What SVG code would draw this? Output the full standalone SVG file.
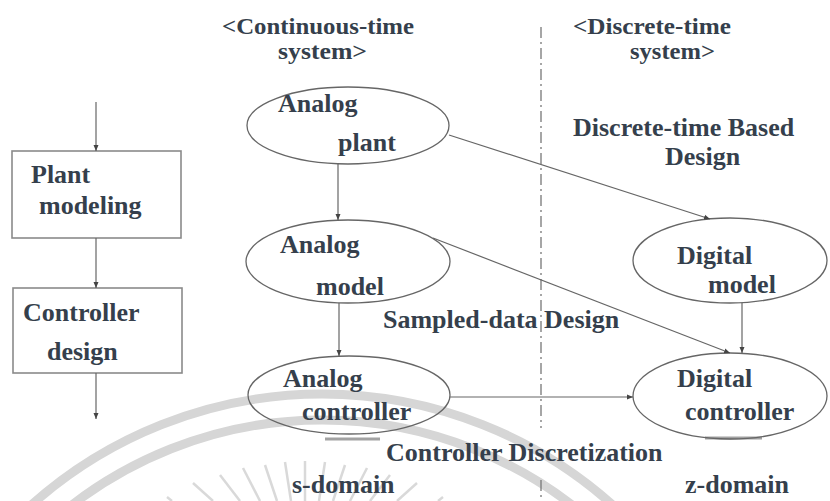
<svg xmlns="http://www.w3.org/2000/svg" width="830" height="501" viewBox="0 0 830 501">
<style>
.t{font-family:"Liberation Serif","Times New Roman",serif;font-weight:bold;font-size:26px;fill:#353f4c}
.h{font-family:"Liberation Serif","Times New Roman",serif;font-weight:bold;font-size:23px;fill:#353f4c}
.n{fill:none;stroke:#666;stroke-width:1.3}
.b{fill:none;stroke:#8a8a8a;stroke-width:1.6}
.c{fill:none;stroke:#666;stroke-width:1.2}
.w{fill:none;stroke:#d6d6d6}
</style>
<defs>
<marker id="ah" markerWidth="6" markerHeight="6" refX="6" refY="3" orient="auto" markerUnits="userSpaceOnUse">
<path d="M0,0.5 L6,3 L0,5.5 z" fill="#444"/>
</marker>
</defs>
<rect width="830" height="501" fill="#fff"/>
<g id="watermark">
<circle class="w" cx="322" cy="830" r="436" stroke-width="9"/>
<circle class="w" cx="322" cy="830" r="410" stroke-width="9"/>
<g stroke-width="2.5" stroke="#d9d9d9">
<line x1="167" y1="497" x2="172" y2="501"/>
<line x1="193" y1="483" x2="213" y2="501"/>
<line x1="220" y1="475" x2="240" y2="501"/>
<line x1="243" y1="468" x2="260" y2="501"/>
<line x1="265" y1="465" x2="277" y2="501"/>
<line x1="285" y1="462" x2="291" y2="501"/>
<line x1="305" y1="461" x2="305" y2="501"/>
<line x1="325" y1="462" x2="319" y2="501"/>
<line x1="345" y1="465" x2="333" y2="501"/>
<line x1="367" y1="468" x2="350" y2="501"/>
<line x1="390" y1="475" x2="370" y2="501"/>
<line x1="417" y1="483" x2="397" y2="501"/>
<line x1="443" y1="497" x2="438" y2="501"/>
</g>
<line x1="325" y1="439" x2="380" y2="439" stroke="#8c8c8c" stroke-width="3" opacity="0.8"/>
<line x1="705" y1="438" x2="762" y2="438" stroke="#8c8c8c" stroke-width="3" opacity="0.8"/>
</g>
<g id="divider">
<line x1="541" y1="27" x2="541" y2="428" stroke="#777" stroke-width="1.3" stroke-dasharray="11,4,2,4"/>
<line x1="541" y1="480" x2="541" y2="501" stroke="#777" stroke-width="1.3" stroke-dasharray="11,4,2,4"/>
</g>
<g id="labels">
<text class="h" x="222" y="34" textLength="192" lengthAdjust="spacingAndGlyphs">&lt;Continuous-time</text>
<text class="h" x="278" y="59" textLength="89" lengthAdjust="spacingAndGlyphs">system&gt;</text>
<text class="h" x="573" y="34" textLength="158" lengthAdjust="spacingAndGlyphs">&lt;Discrete-time</text>
<text class="h" x="630" y="59" textLength="85" lengthAdjust="spacingAndGlyphs">system&gt;</text>
<text class="t" x="573" y="136">Discrete-time Based</text>
<text class="t" x="665" y="165">Design</text>
<text class="t" x="383" y="328">Sampled-data Design</text>
<text class="t" x="386" y="461">Controller Discretization</text>
<text class="t" x="292" y="493">s-domain</text>
<text class="t" x="685" y="493">z-domain</text>
</g>
<g id="plant-modeling">
<rect class="b" x="12" y="151" width="169" height="87"/>
<text class="t" x="31" y="183">Plant</text>
<text class="t" x="39" y="214">modeling</text>
</g>
<g id="controller-design">
<rect class="b" x="13" y="288" width="169" height="85"/>
<text class="t" x="23" y="321">Controller</text>
<text class="t" x="47" y="360">design</text>
</g>
<g id="analog-plant">
<ellipse class="n" cx="348" cy="125.5" rx="101" ry="38.5"/>
<text class="t" x="278" y="112">Analog</text>
<text class="t" x="338" y="151">plant</text>
</g>
<g id="analog-model">
<ellipse class="n" cx="348" cy="261.5" rx="102" ry="41.5"/>
<text class="t" x="280" y="253">Analog</text>
<text class="t" x="316" y="295">model</text>
</g>
<g id="analog-controller">
<ellipse class="n" cx="349" cy="395" rx="101" ry="39"/>
<text class="t" x="283" y="387">Analog</text>
<text class="t" x="302" y="420">controller</text>
</g>
<g id="digital-model">
<ellipse class="n" cx="730" cy="260.5" rx="97" ry="42.5"/>
<text class="t" x="677" y="264">Digital</text>
<text class="t" x="708" y="293">model</text>
</g>
<g id="digital-controller">
<ellipse class="n" cx="730" cy="396" rx="97" ry="43"/>
<text class="t" x="677" y="387">Digital</text>
<text class="t" x="685" y="420">controller</text>
</g>
<g id="connectors">
<line class="c" x1="96" y1="102" x2="96" y2="151" marker-end="url(#ah)"/>
<line class="c" x1="96" y1="238" x2="96" y2="288" marker-end="url(#ah)"/>
<line class="c" x1="96" y1="373" x2="96" y2="419" marker-end="url(#ah)"/>
<line class="c" x1="338" y1="164" x2="338" y2="220" marker-end="url(#ah)"/>
<line class="c" x1="339" y1="303" x2="339" y2="356" marker-end="url(#ah)"/>
<line class="c" x1="449" y1="135" x2="710" y2="219" marker-end="url(#ah)"/>
<line class="c" x1="433" y1="238" x2="730" y2="353" marker-end="url(#ah)"/>
<line class="c" x1="742" y1="303" x2="742" y2="353" marker-end="url(#ah)"/>
<line class="c" x1="450" y1="397" x2="633" y2="397" marker-end="url(#ah)"/>
</g>
</svg>
